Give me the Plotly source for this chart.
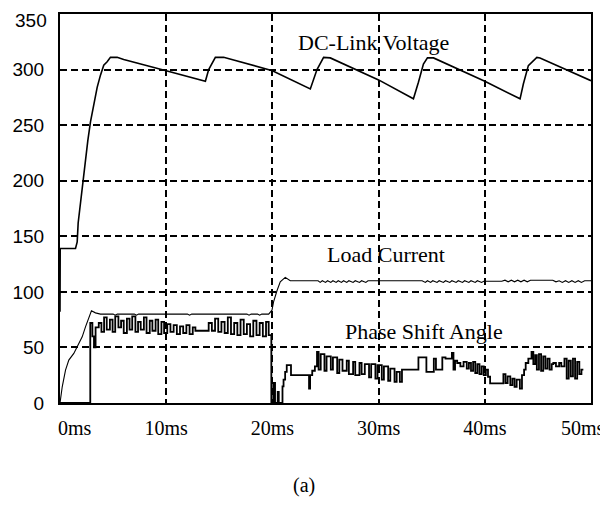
import plotly.graph_objects as go

# ---- data ----
volt_t = [0, 0.02, 1.46, 1.62, 1.71, 1.93, 2.14, 2.40, 2.62, 2.87, 3.18, 3.50, 3.81, 4.12, 4.44, 4.75,
          5.38, 6.0, 10.0, 13.69, 14.0, 14.63, 15.41, 20.0, 23.57, 24.2, 24.82, 25.45, 30.0, 33.28,
          33.75, 34.22, 34.6, 35.17, 40.0, 43.32, 43.63, 44.1, 44.9, 45.2, 50.0]
volt_v = [82, 139, 139, 145, 162, 180, 200, 218, 236, 253, 269, 284, 295, 304, 307, 311,
          311, 309, 299, 289.5, 300, 311, 311, 299, 282.6, 300, 311, 310.5, 290.7, 273.7,
          288.6, 305, 310.5, 310.5, 289.5, 273.7, 287, 303.6, 311, 310.5, 290]

curr_t = [0, 0.21, 0.52, 0.83, 1.30, 1.62, 2.09, 2.40, 2.71, 2.96, 3.34, 3.81,
          5.0, 5.2, 5.4, 7.0, 7.2, 7.4, 12.0, 12.2, 12.4, 17.6, 17.8, 18.0, 18.6, 18.8, 19.0, 19.65,
          19.96, 20.11, 20.43, 20.74, 21.21, 21.68,
          24.3, 24.5, 24.7, 25.0, 25.2, 25.5, 25.7, 26.0, 26.2, 26.5, 26.7, 27.0, 27.2, 27.6, 27.8,
          28.2, 28.4, 28.8, 29.0, 33.9, 34.1, 34.4, 34.6, 34.9, 35.1, 35.5, 35.7, 36.1, 36.3, 36.7,
          36.9, 37.3, 37.5, 37.9, 38.1, 38.5, 38.7, 39.1, 39.3, 39.7, 39.9, 41.6, 41.9, 42.2, 42.5,
          42.8, 43.1, 43.4, 43.7, 44.0, 44.3, 46.4, 46.7, 47.0, 47.3, 47.6, 47.9, 48.2, 48.5, 48.8,
          49.1, 49.4, 50.0]
curr_v = [0, 14.6, 29.6, 38.6, 44.6, 50.6, 59.5, 68.5, 77.5, 82.9, 81.1, 80,
          80, 79, 80, 80, 79, 80, 80, 79, 80, 80, 79, 80, 80, 79, 80, 80,
          83.5, 91, 101, 109, 113, 110,
          110, 108.5, 110, 108.5, 110, 108.5, 110, 108.5, 110, 108.5, 110, 108.5, 110, 108.5, 110,
          108.5, 110, 108.5, 110, 109.5, 110, 108.5, 110, 108.5, 110, 108.5, 110, 108.5, 110, 108.5,
          110, 108.5, 110, 108.5, 110, 108.5, 110, 108.5, 110, 108.5, 109.5, 109.5, 110.5, 109, 110.5,
          109, 110.5, 109, 110.5, 109, 110.5, 110.5, 109, 110, 108.5, 110, 108.5, 110, 108.5, 110,
          108.5, 110, 110]

phase_t = [0, 2.85, 3.05, 3.2, 3.35, 3.65, 3.9, 4.15, 4.4, 4.7, 4.95, 5.2, 5.5, 5.75, 6.0, 6.3,
           6.55, 6.8, 7.1, 7.35, 7.6, 7.9, 8.15, 8.45, 8.7, 9.0, 9.25, 9.55, 9.8, 10.1, 10.4, 10.7,
           11.0, 11.3, 11.6, 11.9, 12.2, 12.5, 12.75,
           14.0, 14.3, 14.6, 14.9, 15.2, 15.5, 15.8, 16.1, 16.4, 16.7, 17.0, 17.3, 17.6, 17.9, 18.2,
           18.5, 18.8, 19.1, 19.4, 19.65, 19.9,
           20.1, 20.25, 20.5, 20.6, 20.95, 21.05, 21.2, 21.35, 21.75, 23.45, 23.55, 23.75, 24.0,
           24.2, 24.35, 24.55, 24.9, 25.1, 25.5, 25.7, 26.1, 26.3, 26.6, 27.0, 27.2, 27.6, 27.8,
           28.2, 28.4, 28.7, 29.1, 29.3, 29.7, 29.9, 30.3, 30.5, 30.9, 31.1, 31.5, 31.7, 32.0,
           32.2, 33.75,
           34.5, 35.2, 35.4, 36.0, 36.3, 36.9, 37.05, 37.2, 37.4, 37.7, 38.0, 38.3, 38.5, 38.7, 38.9,
           39.1, 39.3, 39.5, 39.7, 39.9, 40.1, 40.3, 40.5, 41.75, 41.95, 42.15, 42.4, 42.6, 42.8,
           43.0, 43.3, 43.5, 43.7, 43.85, 44.1, 44.4, 44.57, 44.75, 44.9, 45.1, 45.3, 45.5, 45.7,
           45.9, 46.1, 46.3, 46.45, 46.7, 47.0, 47.2, 47.5, 47.71, 47.9, 48.1, 48.3, 48.5, 48.7,
           48.9, 49.1, 49.28, 50.0]
phase_v = [0, 72, 60, 50, 68, 72, 64, 77, 66, 75, 64, 78, 68, 74, 63, 76,
           66, 78, 64, 73, 66, 77, 63, 74, 65, 75, 62, 73, 63, 71, 64, 70,
           62, 69, 63, 70, 62, 68, 65,
           72, 65, 76, 64, 73, 63, 77, 62, 72, 61, 75, 62, 71, 60, 74,
           61, 72, 60, 73, 61, 0,
           18, 0, 10, 0, 15, 21, 28, 34, 25, 13, 25, 29,
           33, 46, 30, 44, 29, 42, 30, 41, 27, 39, 29, 38, 26, 37,
           25, 36, 26, 35, 23, 35, 22, 34, 21, 33, 20, 31, 19, 28,
           19, 30,
           41, 28, 40, 30, 41, 40, 45, 30, 38, 36, 33, 37, 31, 36, 29,
           37, 27, 35, 26, 33, 25, 30, 23.6, 17.7, 26, 18, 24, 16, 22,
           14.6, 21, 13, 25, 30, 36, 40, 46, 35, 43, 30, 44, 29, 42,
           31, 40, 30, 35, 36, 33, 36, 33, 40, 22, 38, 24, 40, 22,
           37, 26, 30, 30]

x_ticks = [0, 10, 20, 30, 40, 50]
x_labels = ["0ms", "10ms", "20ms", "30ms", "40ms", "50ms"]
y_ticks = [0, 50, 100, 150, 200, 250, 300, 350]
y_labels = ["0", "50", "100", "150", "200", "250", "300", "350"]

fig = go.Figure()
fig.add_trace(go.Scatter(x=volt_t, y=volt_v, mode="lines",
                         line=dict(color="black", width=1.6), showlegend=False))
fig.add_trace(go.Scatter(x=curr_t, y=curr_v, mode="lines",
                         line=dict(color="black", width=1.1), showlegend=False))
fig.add_trace(go.Scatter(x=phase_t, y=phase_v, mode="lines",
                         line=dict(color="black", width=1.8, shape="hv"), showlegend=False))

serif = "Liberation Serif, Times New Roman, serif"
sans = "Liberation Sans, Arial, sans-serif"
fig.add_annotation(x=29.5, y=324, xref="x", yref="y", text="DC-Link Voltage", showarrow=False,
                   font=dict(family=serif, size=22, color="black"))
fig.add_annotation(x=30.7, y=134, xref="x", yref="y", text="Load Current", showarrow=False,
                   font=dict(family=serif, size=22, color="black"))
fig.add_annotation(x=34.3, y=64, xref="x", yref="y", text="Phase Shift Angle", showarrow=False,
                   font=dict(family=serif, size=22, color="black"))
fig.add_annotation(x=0.46, y=-0.213, xref="paper", yref="paper", text="(a)", showarrow=False,
                   xanchor="center", yanchor="middle",
                   font=dict(family=serif, size=20, color="black"))

# end tick labels kept inside the figure as in the reference
mid_text = ["" if v in (x_ticks[0], x_ticks[-1]) else lab for v, lab in zip(x_ticks, x_labels)]
fig.add_annotation(x=x_ticks[0], y=0, xref="x", yref="paper", text=x_labels[0], showarrow=False,
                   xanchor="left", yanchor="middle", xshift=-4, yshift=-25,
                   font=dict(family=serif, size=20, color="black"))
fig.add_annotation(x=x_ticks[-1], y=0, xref="x", yref="paper", text=x_labels[-1], showarrow=False,
                   xanchor="right", yanchor="middle", xshift=16, yshift=-25,
                   font=dict(family=serif, size=20, color="black"))
# top y label sits slightly lower in the reference
y_text = y_labels[:-1] + [""]
fig.add_annotation(x=0, y=y_ticks[-1], xref="paper", yref="y", text=y_labels[-1], showarrow=False,
                   xanchor="right", yanchor="middle", xshift=-11, yshift=-6,
                   font=dict(family=sans, size=19, color="black"))

fig.update_layout(
    width=600, height=492,
    margin=dict(l=52, r=17, t=6, b=97),
    paper_bgcolor="white", plot_bgcolor="white",
    xaxis=dict(range=[0, 50], tickvals=x_ticks, ticktext=mid_text, showline=True, mirror=True,
               linecolor="black", linewidth=2, showgrid=True, gridcolor="black", gridwidth=1.5,
               griddash="7px,4px", zeroline=False, ticks="", ticklabelstandoff=6,
               automargin=False, ticklabeloverflow="allow",
               tickfont=dict(family=serif, size=20, color="black")),
    yaxis=dict(range=[0, 350], tickvals=y_ticks, ticktext=y_text, showline=True, mirror=True,
               linecolor="black", linewidth=2, showgrid=True, gridcolor="black", gridwidth=1.5,
               griddash="7px,4px", zeroline=False, ticks="", ticklabelstandoff=10,
               automargin=False, ticklabeloverflow="allow",
               tickfont=dict(family=sans, size=19, color="black")),
)

fig.write_html("out.html")
